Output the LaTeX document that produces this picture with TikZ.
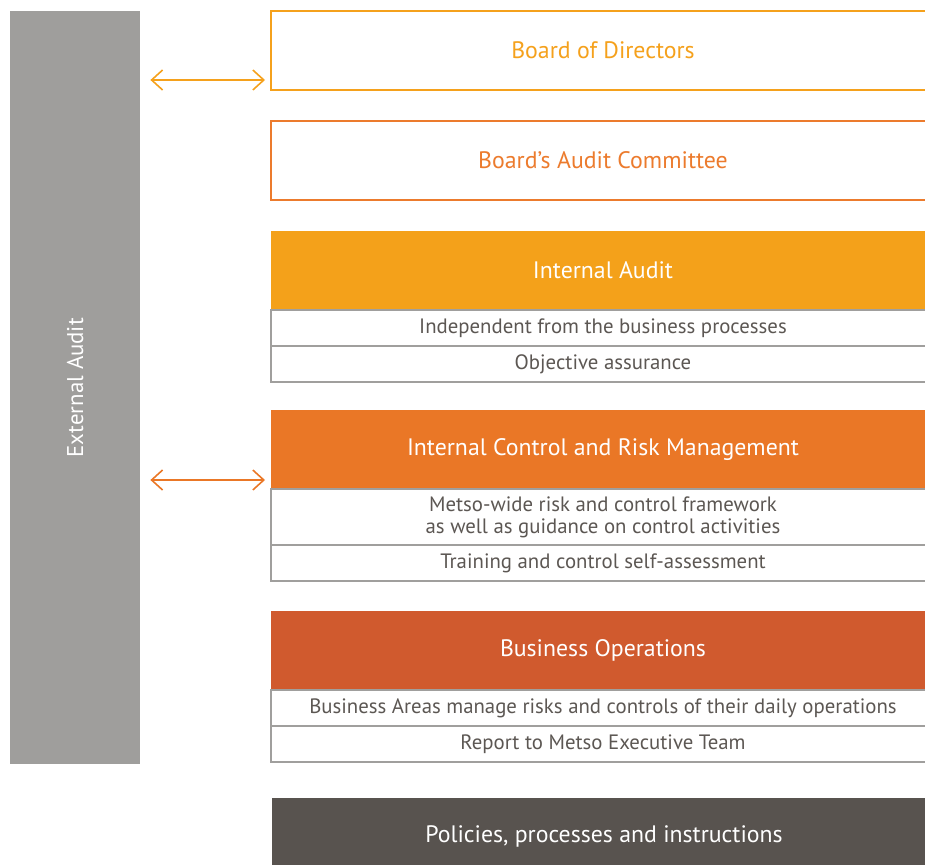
\documentclass[tikz,border=0pt]{standalone}
\usepackage{fontspec}
\setmainfont{PT Sans}
\usetikzlibrary{positioning, arrows.meta}

\definecolor{extgrey}{HTML}{9F9E9C}
\definecolor{boardorange}{HTML}{F5A11C}
\definecolor{committeeorange}{HTML}{EC7B2D}
\definecolor{auditorange}{HTML}{F4A11A}
\definecolor{controlorange}{HTML}{EA7726}
\definecolor{opsred}{HTML}{D05A2E}
\definecolor{policygrey}{HTML}{58534F}
\definecolor{rowtext}{HTML}{5C5753}
\definecolor{rowline}{HTML}{A09F9D}

\begin{document}
\begin{tikzpicture}[
    x=1pt, y=1pt,
    node distance=0pt,
    % Styles
    outlinebox/.style={ % Board level boxes, outline only
        rectangle,
        draw,
        line width=2pt,
        fill=white,
        minimum width=664pt,
        minimum height=79pt,
        outer sep=0pt,
        inner sep=0pt,
        font=\fontsize{23.8}{27}\selectfont
    },
    headbox/.style={ % Coloured heading boxes
        rectangle,
        minimum width=664pt,
        minimum height=79pt,
        outer sep=0pt,
        inner sep=0pt,
        text=white,
        font=\fontsize{23.8}{27}\selectfont
    },
    rowbox/.style={ % Grey description rows
        rectangle,
        draw=rowline,
        line width=2pt,
        minimum width=664pt,
        minimum height=36pt,
        outer sep=0pt,
        inner sep=0pt,
        align=center,
        text=rowtext,
        font=\fontsize{20.8}{22}\selectfont
    },
    twoway/.style={ % Link to external audit
        {Straight Barb[length=11pt, width=20pt]}-{Straight Barb[length=11pt, width=20pt]},
        line width=1.6pt
    }
]
    \clip (0,0) rectangle (925,-864);

    % External audit bar
    \node[fill=extgrey, minimum width=130pt, minimum height=753pt, inner sep=0pt,
          anchor=north west] (ext) at (10,-11) {};
    \node[rotate=90, text=white, font=\fontsize{22.8}{26}\selectfont] (extlabel) at (ext.center) {External Audit};

    % Board level
    \node[outlinebox, draw=boardorange, text=boardorange, anchor=north west] (bod) at (271,-11) {Board of Directors};
    \node[outlinebox, draw=committeeorange, text=committeeorange, below=31pt of bod] (bac) {Board's Audit Committee};

    % Internal audit
    \node[headbox, fill=auditorange, below=31pt of bac] (ia) {Internal Audit};
    \node[rowbox, below=of ia] (ia1) {Independent from the business processes};
    \node[rowbox, below=of ia1] (ia2) {Objective assurance};

    % Internal control and risk management
    \node[headbox, fill=controlorange, below=28pt of ia2] (icrm) {Internal Control and Risk Management};
    \node[rowbox, minimum height=56pt, below=of icrm] (icrm1)
        {Metso-wide risk and control framework\\as well as guidance on control activities};
    \node[rowbox, below=of icrm1] (icrm2) {Training and control self-assessment};

    % Business operations
    \node[headbox, fill=opsred, below=30pt of icrm2] (bo) {Business Operations};
    \node[rowbox, below=of bo] (bo1) {Business Areas manage risks and controls of their daily operations};
    \node[rowbox, below=of bo1] (bo2) {Report to Metso Executive Team};

    % Policies
    \node[headbox, fill=policygrey, minimum height=76pt, anchor=north west] (pol) at (272,-798) {Policies, processes and instructions};

    % Links to external audit
    \coordinate (bodlink) at ([yshift=10pt]bod.south west);
    \coordinate (icrmlink) at ([yshift=9pt]icrm.south west);
    \draw[twoway, draw=boardorange, shorten <=10pt, shorten >=6pt] (ext.east |- bodlink) -- (bodlink);
    \draw[twoway, draw=controlorange, shorten <=10pt, shorten >=6pt] (ext.east |- icrmlink) -- (icrmlink);
\end{tikzpicture}
\end{document}
